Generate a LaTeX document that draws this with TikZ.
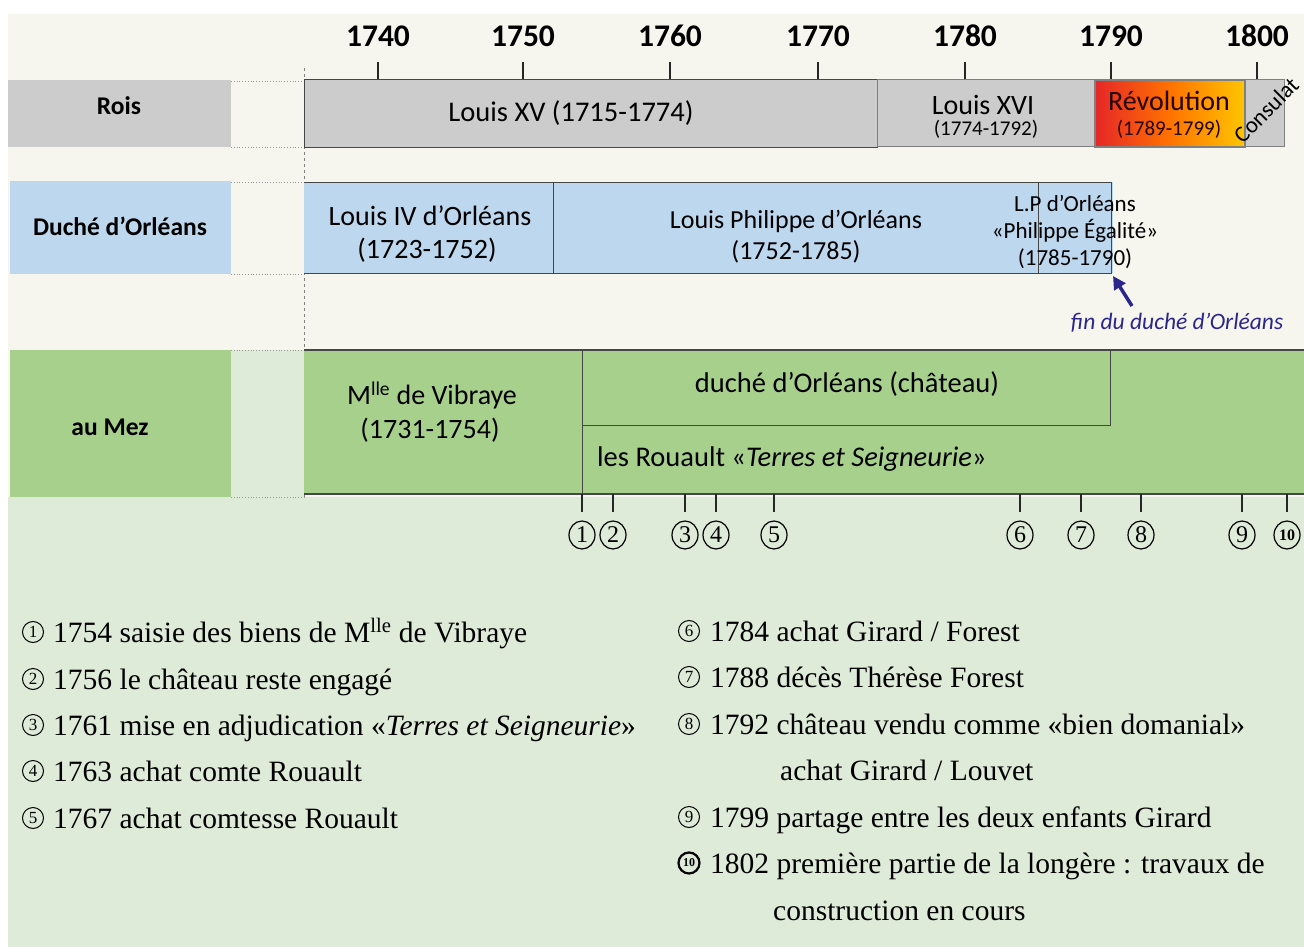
\documentclass[tikz,border=0pt]{standalone}
\usepackage{fontspec}
\setmainfont{Carlito}
\newfontfamily\legendfont{Liberation Serif}
\usetikzlibrary{arrows.meta}

\definecolor{cream}{RGB}{246,246,238}
\definecolor{palegreen}{RGB}{222,235,217}
\definecolor{kinggray}{RGB}{204,204,204}
\definecolor{duchyblue}{RGB}{189,215,238}
\definecolor{mezgreen}{RGB}{168,208,141}
\definecolor{edge}{RGB}{70,70,70}
\definecolor{navy}{RGB}{44,38,140}
\definecolor{revred}{RGB}{230,38,40}
\definecolor{revyellow}{RGB}{255,198,0}

\tikzset{
  fs/.style={font=\fontsize{#1}{#1}\selectfont},
  rowhead/.style={font=\bfseries\fontsize{25.5}{27}\selectfont, inner sep=0},
  yearlbl/.style={font=\bfseries\fontsize{31.5}{33}\selectfont, inner sep=0, anchor=base},
  bartext/.style={inner sep=0, fs=#1},
  box/.style={draw=edge, line width=1pt},
  gapline/.style={draw=gray!80, dotted, line width=0.8pt},
  tick/.style={draw=black!85, line width=1.2pt},
  evnum/.style={ellipse, draw=black, line width=1.2pt, minimum width=26pt,
    minimum height=28pt, inner sep=0, font=\legendfont\fontsize{24}{24}\selectfont},
  legnum/.style={circle, draw=black, line width=1pt, minimum size=21pt,
    inner sep=0, font=\legendfont\fontsize{17}{17}\selectfont},
  legtext/.style={anchor=base west, inner sep=0,
    font=\legendfont\fontsize{29.5}{31}\selectfont},
}
\usetikzlibrary{shapes.geometric}

\begin{document}
\begin{tikzpicture}[x=1pt,y=-1pt]
\useasboundingbox (0,0) rectangle (1304,947);
\fill[white] (0,0) rectangle (1304,947);

% backgrounds
\fill[cream] (8,14) rectangle (1304,497);
\fill[palegreen] (8,497) rectangle (1304,947);

% row headers
\fill[kinggray] (8,80) rectangle (231,147);
\fill[duchyblue] (10,181) rectangle (231,274);
\fill[mezgreen] (10,350) rectangle (231,497);
\node[rowhead] (hRois) at (119,106) {Rois};
\node[rowhead] (hDuche) at (120,226) {Duché d’Orléans};
\node[rowhead] (hMez) at (110,427) {au Mez};

% gaps between header and timeline
\draw[gapline] (231,81) -- (304,81) (231,147) -- (304,147);
\draw[gapline] (231,182) -- (304,182) (231,274) -- (304,274);
\fill[palegreen] (231,350) rectangle (304,497);
\draw[gapline] (231,350) -- (304,350) (231,497) -- (304,497);

% start of the time scale (1735)
\draw[gray, dashed, line width=0.8pt] (304,68) -- (304,497);

% year axis
\foreach \yr/\xx in {1740/378,1750/523,1760/670,1770/818,1780/965,1790/1111,1800/1257}{
  \draw[tick] (\xx,62) -- (\xx,80);
  \node[yearlbl] (y\yr) at (\xx,47) {\yr};
}

% ---- Rois
\path[box, fill=kinggray] (304,80) rectangle (877,148);
\node[bartext=28.5] (louisXV) at (571,113) {Louis XV (1715-1774)};
\path[box, fill=kinggray, draw=edge!70] (877,80) rectangle (1095,147);
\node[bartext=28] (louisXVI) at (983,105) {Louis XVI};
\node[bartext=21] (louisXVIy) at (986,129) {(1774-1792)};
\path[draw=gray, line width=1pt, fill=kinggray] (1245,80) rectangle (1284,147);
\shade[left color=revred, right color=revyellow, middle color=orange!90!red]
  (1095,80) rectangle (1245,147);
\draw[gray, line width=2pt] (1095,80) rectangle (1245,147);
\node[bartext=28, text=black!85!red] (revo) at (1169,101) {Révolution};
\node[bartext=21, text=black!85!red] (revoy) at (1169,129) {(1789-1799)};
\node[bartext=23, rotate=45] (consulat) at (1266,110) {Consulat};

% ---- Duché d'Orléans
\path[fill=duchyblue] (304,182) rectangle (1113,273);
\draw[edge, line width=1pt] (304,182) -- (1111,182) -- (1111,273) -- (304,273);
\draw[edge, line width=1pt] (553,182) -- (553,273);
\draw[edge, line width=0.8pt] (1038,182) -- (1038,273);
\node[bartext=28] (lIV) at (430,216) {Louis IV d’Orléans};
\node[bartext=28] (lIVy) at (427,250) {(1723-1752)};
\node[bartext=26] (lp) at (796,221) {Louis Philippe d’Orléans};
\node[bartext=26] (lpy) at (796,252) {(1752-1785)};
\node[bartext=23] (lpe1) at (1075,203) {L.P d’Orléans};
\node[bartext=23] (lpe2) at (1075,231) {«Philippe Égalité»};
\node[bartext=23] (lpe3) at (1075,259) {(1785-1790)};

% end of the duchy
\coordinate (duchyEnd) at (1113,276);
\node[inner sep=0, text=navy, font=\itshape\fontsize{23.5}{24}\selectfont]
  (finDuche) at (1177,323) {fin du duché d’Orléans};
\draw[navy, line width=3.5pt, -{Triangle[length=13pt,width=13pt]}]
  (1132,306) -- (duchyEnd);

% ---- au Mez
\fill[mezgreen] (304,350) rectangle (1304,494);
\draw[edge, line width=1.2pt] (304,350) -- (1304,350);
\draw[edge, line width=1.2pt] (304,494) -- (1304,494);
\draw[edge, line width=1pt] (582,350) -- (582,512);
\draw[edge, line width=1pt] (582,425) -- (1110,425) -- (1110,350);
\node[bartext=28] (vib1) at (432,395) {M\textsuperscript{lle} de Vibraye};
\node[bartext=28] (vib2) at (430,430) {(1731-1754)};
\node[bartext=28.5] (chateau) at (847,384) {duché d’Orléans (château)};
\node[bartext=28.5, anchor=west] (rouault) at (597,459)
  {les Rouault «\textit{Terres et Seigneurie}»};

% events on the time scale
\foreach \n/\xx in {1/582,2/613,3/685,4/716,5/774,6/1020,7/1081,8/1141,9/1242}{
  \draw[tick] (\xx,494) -- (\xx,512);
  \node[evnum] (ev\n) at (\xx,535) {\n};
}
\draw[tick] (1287,494) -- (1287,512);
\node[evnum, font=\legendfont\bfseries\fontsize{16}{16}\selectfont] (ev10) at (1287,535) {10};

% legend, left column
\foreach \n/\yy/\txt in {
  1/642/{1754 saisie des biens de M\textsuperscript{lle} de Vibraye},
  2/689/{1756 le château reste engagé},
  3/735/{1761 mise en adjudication «\textit{Terres et Seigneurie}»},
  4/781/{1763 achat comte Rouault},
  5/828/{1767 achat comtesse Rouault}}{
  \node[legnum] (leg\n) at (33,\yy-10) {\n};
  \node[legtext] (legt\n) at (53,\yy) {\txt};
}

% legend, right column
\foreach \n/\yy/\txt in {
  6/641/{1784 achat Girard / Forest},
  7/687/{1788 décès Thérèse Forest},
  8/734/{1792 château vendu comme «bien domanial»},
  9/827/{1799 partage entre les deux enfants Girard}}{
  \node[legnum] (leg\n) at (689,\yy-10) {\n};
  \node[legtext] (legt\n) at (710,\yy) {\txt};
}
\node[legtext] (legt8b) at (780,780) {achat Girard / Louvet};
\node[legnum, line width=2.2pt, font=\legendfont\bfseries\fontsize{12}{12}\selectfont]
  (leg10) at (689,863) {10};
\node[legtext] (legt10) at (710,873) {1802 première partie de la longère : travaux de};
\node[legtext] (legt10b) at (773,920) {construction en cours};
\end{tikzpicture}
\end{document}
